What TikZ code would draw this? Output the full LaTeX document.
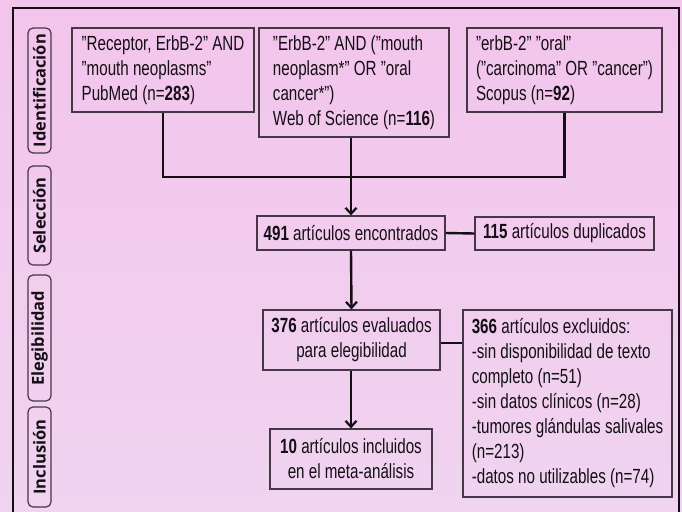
\documentclass[tikz,border=0pt]{standalone}
\usepackage{fontspec}
\setmainfont[FakeStretch=0.74]{Liberation Sans}
\newfontfamily\labfont{Open Sans}
\usetikzlibrary{arrows.meta}
\definecolor{bgtop}{RGB}{243,196,236}
\definecolor{bgbot}{RGB}{240,212,240}
\definecolor{edge}{RGB}{70,55,68}
\definecolor{txt}{RGB}{20,15,20}
\tikzset{
  box/.style={draw=edge, line width=1.2pt, inner sep=0pt, text=txt, font=\fontsize{20.5}{25}\selectfont},
  sidelab/.style={draw=edge, line width=1.2pt, rounded corners=5pt, minimum height=23pt, inner sep=0pt, rotate=90, font=\labfont\bfseries\fontsize{16.5}{18}\selectfont, text=txt},
  conn/.style={line width=2.4pt, draw=txt},
  arr/.style={conn, -{Straight Barb[length=6pt,width=11pt,line width=2.2pt]}},
}
\begin{document}
\begin{tikzpicture}[x=1pt,y=1pt]
\useasboundingbox (0,0) rectangle (682,-511);
\shade[top color=bgtop, bottom color=bgbot] (0,0) rectangle (682,-511);
\begin{scope}
\clip (0,0) rectangle (682,-511);
\draw[line width=2pt, draw=txt] (13,-530) -- (13,-8) -- (679,-8) -- (679,-530);
\end{scope}
% side labels
\node[sidelab, minimum width=125pt] (lid) at (39.5,-90.5) {Identificación};
\node[sidelab, minimum width=99pt] (lsel) at (39.5,-215.5) {Selección};
\node[sidelab, minimum width=126pt] (leleg) at (39.5,-338) {Elegibilidad};
\node[sidelab, minimum width=100pt] (linc) at (39.5,-457) {Inclusión};
% boxes
\node[box, minimum width=182pt, minimum height=84pt, align=left] (b1) at (163,-70)
  {"Receptor, ErbB-2" AND\\"mouth neoplasms”\\PubMed (n=\textbf{283})};
\node[box, minimum width=190pt, minimum height=109pt, align=left] (b2) at (354,-82.5)
  {"ErbB-2" AND ("mouth\\neoplasm*" OR "oral\\cancer*")\\Web of Science (n=\textbf{116})};
\node[box, minimum width=195pt, minimum height=84pt, align=left] (b3) at (564.5,-70)
  {"erbB-2" "oral"\\("carcinoma" OR "cancer")\\Scopus (n=\textbf{92})};
\node[box, minimum width=188pt, minimum height=34pt, align=center] (b491) at (351,-233)
  {\textbf{491} artículos encontrados};
\node[box, minimum width=179pt, minimum height=33pt, align=center] (b115) at (564.5,-233.5)
  {\textbf{115} artículos duplicados};
\node[box, minimum width=177pt, minimum height=60pt, align=center] (b376) at (351.5,-340)
  {\textbf{376} artículos evaluados\\para elegibilidad};
\node[box, minimum width=209pt, minimum height=187pt, align=left] (b366) at (567.5,-403.5)
  {\textbf{366} artículos excluidos:\\-sin disponibilidad de texto\\completo (n=51)\\-sin datos clínicos (n=28)\\-tumores glándulas salivales\\(n=213)\\-datos no utilizables (n=74)};
\node[box, minimum width=162pt, minimum height=60pt, align=center] (b10) at (351,-459)
  {\textbf{10} artículos incluidos\\en el meta-análisis};
% connectors
\coordinate (j1) at (b1.south |- 0,-177);
\coordinate (j3) at (b3.south |- 0,-177);
\draw[conn] (b1.south) -- (j1) -- (j3) -- (b3.south);
\draw[arr] (b2.south -| b491.north) -- (b491.north);
\draw[conn] (b491.east) -- (b115.west);
\draw[arr] (b491.south) -- (b376.north);
\draw[conn] (b376.east |- 0,-343) -- (b366.west |- 0,-343);
\draw[arr] (b376.south -| b10.north) -- (b10.north);
\end{tikzpicture}
\end{document}
